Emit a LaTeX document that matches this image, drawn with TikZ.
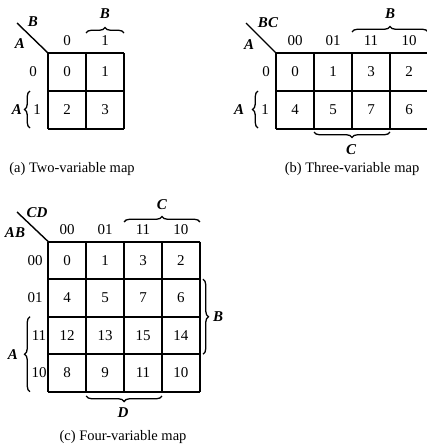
\documentclass[tikz,border=0pt]{standalone}
\usepackage{fontspec}
\setmainfont{Liberation Serif}
\usetikzlibrary{decorations.pathreplacing}

\begin{document}
\begin{tikzpicture}[x=1pt,y=-1pt,line width=1.8pt,
  num/.style={font=\fontsize{15}{17}\selectfont},
  var/.style={font=\fontsize{15}{17}\selectfont\bfseries\itshape},
  capt/.style={font=\fontsize{14.5}{16}\selectfont},
  brc/.style={decorate,decoration={brace,amplitude=5.5pt},line width=1.3pt}]
\useasboundingbox (0,0) rectangle (427,447);

% (a) two-variable map
\foreach \x in {48,86,124} \draw (\x,53) -- (\x,129);
\foreach \y in {53,91,129} \draw (48,\y) -- (124,\y);
\foreach \row [count=\r from 0] in {{0,1},{2,3}}
  \foreach \v [count=\c from 0] in \row
    \node[num] (a\v) at (67+38*\c,72+38*\r) {\v};
\coordinate (acorner) at (48,53);
\coordinate (adiag) at (17,23);
\draw[line width=1.4pt] (adiag) -- (acorner);
\node[var] (aB) at (33,22) {B};
\node[var] (aA) at (20,44) {A};
\node[num] (acol0) at (67,41) {0};
\node[num] (acol1) at (105,41) {1};
\node[num] (arow0) at (33,72) {0};
\node[num] (arow1) at (37,110) {1};
\draw[brc] (86,33) -- (124,33);
\node[var] (aBtop) at (105,14) {B};
\draw[brc] (30,128) -- (30,91);
\node[var] (aAleft) at (17,110) {A};
\node[capt] (acap) at (72,169) {(a) Two-variable map};

% (b) three-variable map
\foreach \x in {276,314,352,390,428} \draw (\x,53) -- (\x,129);
\foreach \y in {53,91,129} \draw (276,\y) -- (428,\y);
\foreach \row [count=\r from 0] in {{0,1,3,2},{4,5,7,6}}
  \foreach \v [count=\c from 0] in \row
    \node[num] (b\v) at (295+38*\c,72+38*\r) {\v};
\coordinate (bcorner) at (276,53);
\coordinate (bdiag) at (246,23);
\draw[line width=1.4pt] (bdiag) -- (bcorner);
\node[var] (bBC) at (268,23) {BC};
\node[var] (bA) at (249,45) {A};
\foreach \lab [count=\c from 0] in {00,01,11,10}
  \node[num] (bcol\c) at (295+38*\c,41) {\lab};
\node[num] (brow0) at (266,72) {0};
\node[num] (brow1) at (265,110) {1};
\draw[brc] (352,32) -- (428,32);
\node[var] (bBtop) at (390,14) {B};
\draw[brc] (258,128) -- (258,91);
\node[var] (bAleft) at (239,110) {A};
\draw[brc] (390,132) -- (314,132);
\node[var] (bC) at (351,150) {C};
\node[capt] (bcap) at (352,169) {(b) Three-variable map};

% (c) four-variable map
\foreach \x in {48.3,86.2,124.1,162,199.9} \draw (\x,241.7) -- (\x,391.7);
\foreach \y in {241.7,279.2,316.7,354.2,391.7} \draw (48.3,\y) -- (199.9,\y);
\foreach \row [count=\r from 0] in {{0,1,3,2},{4,5,7,6},{12,13,15,14},{8,9,11,10}}
  \foreach \v [count=\c from 0] in \row
    \node[num] (c\v) at (67.2+37.9*\c,260.5+37.5*\r) {\v};
\coordinate (ccorner) at (48.3,241.7);
\coordinate (cdiag) at (17,212);
\draw[line width=1.4pt] (cdiag) -- (ccorner);
\node[var] (cCD) at (37,213) {CD};
\node[var] (cAB) at (15,233) {AB};
\foreach \lab [count=\c from 0] in {00,01,11,10}
  \node[num] (ccol\c) at (67.2+37.9*\c,230) {\lab};
\node[num] (crow0) at (35,261) {00};
\node[num] (crow1) at (35,298) {01};
\node[num] (crow2) at (39,336) {11};
\node[num] (crow3) at (39,373) {10};
\draw[brc] (124.1,222) -- (199.9,222);
\node[var] (cCtop) at (162,205) {C};
\draw[brc] (30,391.7) -- (30,316.7);
\node[var] (cAleft) at (13,355) {A};
\draw[brc] (203,279.2) -- (203,354.2);
\node[var] (cBright) at (218,317) {B};
\draw[brc] (162,396) -- (86.2,396);
\node[var] (cD) at (123,413) {D};
\node[capt] (ccap) at (123,437) {(c) Four-variable map};
\end{tikzpicture}
\end{document}
